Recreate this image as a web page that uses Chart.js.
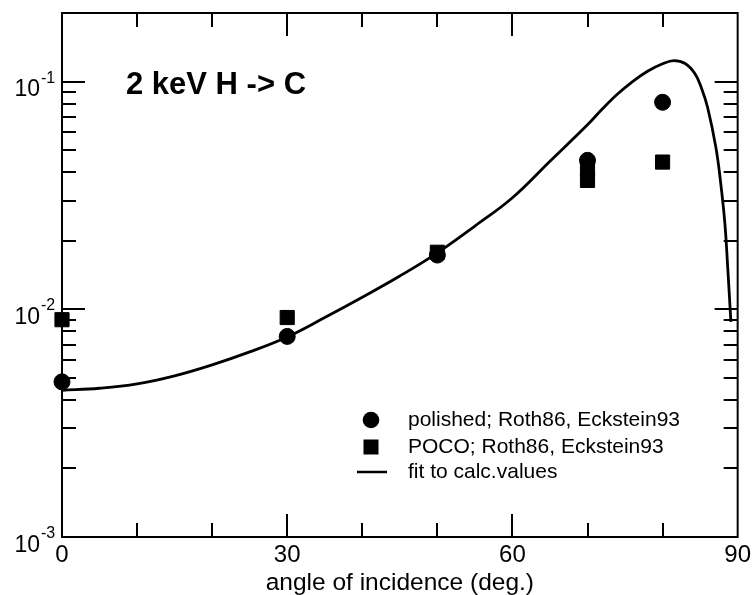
<!DOCTYPE html>
<html>
<head>
<meta charset="utf-8">
<script src="https://cdn.jsdelivr.net/npm/chart.js@4/dist/chart.umd.min.js"></script>
<style>
  html, body { margin: 0; padding: 0; background: #fff; }
  #wrap { width: 755px; height: 595px; }
</style>
</head>
<body>
<div id="wrap"><canvas id="chart" width="755" height="595"></canvas></div>
<script>
// --------------------
// Data
// --------------------
const polishedAngle = [0, 30, 50, 70, 80];
const polishedYield = [0.0048, 0.0076, 0.0173, 0.0451, 0.0811];

const pocoAngle = [0, 30, 50, 70, 70, 80];
const pocoYield = [0.0090, 0.0092, 0.0178, 0.0410, 0.0368, 0.0443];

const fitAngle = [0, 5, 10, 15, 20, 25, 30, 35, 40, 45, 50, 55, 60, 65, 70, 72, 74, 76, 78, 80, 81.5, 83, 84.3, 85.2, 86.0, 87.1, 87.7, 88.3, 88.7, 89.1];
const fitYield = [0.00441, 0.0045, 0.0047, 0.0051, 0.0057, 0.0065, 0.00756, 0.0092, 0.0113, 0.0140, 0.0177, 0.0232, 0.0309, 0.0447, 0.0646, 0.0759, 0.0881, 0.100, 0.111, 0.1197, 0.1236, 0.1200, 0.1084, 0.0933, 0.0769, 0.0514, 0.0368, 0.0238, 0.0148, 0.0088];

const xTicks = [0, 30, 60, 90];
const yDecades = [1e-3, 1e-2, 1e-1];

const legendLabels = ['polished; Roth86, Eckstein93', 'POCO; Roth86, Eckstein93', 'fit to calc.values'];
const titleText = '2 keV H -> C';
const xTitle = 'angle of incidence (deg.)';

const FONT = 'Liberation Sans, Arial, Helvetica, sans-serif';

const toXY = (xs, ys) => xs.map((x, i) => ({ x, y: ys[i] }));

// --------------------
// Frame, inward ticks, y labels, legend, title
// --------------------
const decorPlugin = {
  id: 'decor',
  afterDraw(chart) {
    const { ctx, chartArea: a, scales } = chart;
    const xs = scales.x, ys = scales.y;
    ctx.save();
    ctx.strokeStyle = '#000';
    ctx.fillStyle = '#000';
    ctx.lineWidth = 2;

    // frame
    ctx.strokeRect(a.left, a.top, a.right - a.left, a.bottom - a.top);

    // x ticks, bottom and top
    ctx.beginPath();
    for (let v = 10; v < 90; v += 10) {
      const px = Math.round(xs.getPixelForValue(v));
      const len = v % 30 === 0 ? 23 : 14;
      ctx.moveTo(px, a.bottom); ctx.lineTo(px, a.bottom - len);
      ctx.moveTo(px, a.top); ctx.lineTo(px, a.top + len);
    }
    // y ticks, left and right
    for (let d = 1e-3; d < 0.5; d *= 10) {
      for (let m = 1; m <= 9; m++) {
        const v = d * m;
        if (v < ys.min || v > ys.max) continue;
        const py = Math.round(ys.getPixelForValue(v));
        const len = m === 1 ? 23 : 14;
        ctx.moveTo(a.left, py); ctx.lineTo(a.left + len, py);
        ctx.moveTo(a.right, py); ctx.lineTo(a.right - len, py);
      }
    }
    ctx.stroke();

    // y labels 10^n
    yDecades.forEach(v => {
      const py = ys.getPixelForValue(v);
      const exp = String(Math.round(Math.log10(v)));
      ctx.textAlign = 'right';
      ctx.textBaseline = 'alphabetic';
      ctx.font = '23px ' + FONT;
      ctx.fillText('10', 40, py + 14.5);
      ctx.textAlign = 'left';
      ctx.font = '16px ' + FONT;
      ctx.fillText(exp, 41, py + 1);
    });

    // title in the plot
    ctx.textAlign = 'left';
    ctx.font = 'bold 31px ' + FONT;
    ctx.fillText(titleText, 126, 94);

    // legend
    ctx.font = '21px ' + FONT;
    ctx.beginPath();
    ctx.arc(371, 420, 8.3, 0, Math.PI * 2);
    ctx.fill();
    ctx.fillRect(363.5, 439.5, 15, 15);
    ctx.lineWidth = 2.5;
    ctx.beginPath();
    ctx.moveTo(357, 472); ctx.lineTo(387, 472);
    ctx.stroke();
    ctx.fillText(legendLabels[0], 408, 426);
    ctx.fillText(legendLabels[1], 408, 453);
    ctx.fillText(legendLabels[2], 408, 478);

    ctx.restore();
  }
};

// --------------------
// Chart
// --------------------
new Chart(document.getElementById('chart'), {
  type: 'scatter',
  data: {
    datasets: [
      {
        label: legendLabels[0],
        data: toXY(polishedAngle, polishedYield),
        pointStyle: 'circle',
        pointRadius: 8,
        borderWidth: 1,
        borderColor: '#000',
        backgroundColor: '#000',
        clip: false
      },
      {
        label: legendLabels[1],
        data: toXY(pocoAngle, pocoYield),
        pointStyle: 'rect',
        pointRadius: 10,
        borderWidth: 1,
        borderColor: '#000',
        backgroundColor: '#000',
        clip: false
      },
      {
        label: legendLabels[2],
        type: 'line',
        data: toXY(fitAngle, fitYield),
        showLine: true,
        pointRadius: 0,
        borderColor: '#000',
        borderWidth: 2.8,
        tension: 0.4,
        fill: false
      }
    ]
  },
  options: {
    responsive: false,
    animation: false,
    devicePixelRatio: 1,
    layout: { padding: { top: 13, right: 15, left: 0, bottom: 0 } },
    plugins: {
      legend: { display: false },
      tooltip: { enabled: false }
    },
    scales: {
      x: {
        type: 'linear',
        min: 0,
        max: 90,
        afterBuildTicks: s => { s.ticks = xTicks.map(v => ({ value: v })); },
        afterFit: s => { s.height = 58; },
        grid: { display: false, drawTicks: false },
        border: { display: false },
        ticks: {
          color: '#000',
          padding: 4,
          maxRotation: 0,
          font: { family: FONT, size: 24 }
        },
        title: {
          display: true,
          text: xTitle,
          color: '#000',
          padding: { top: 0, bottom: 0 },
          font: { family: FONT, size: 24.5, lineHeight: 1 }
        }
      },
      y: {
        type: 'logarithmic',
        min: 1e-3,
        max: 0.2,
        afterFit: s => { s.width = 62; },
        grid: { display: false, drawTicks: false },
        border: { display: false },
        ticks: { display: false }
      }
    }
  },
  plugins: [decorPlugin]
});
</script>
</body>
</html>
